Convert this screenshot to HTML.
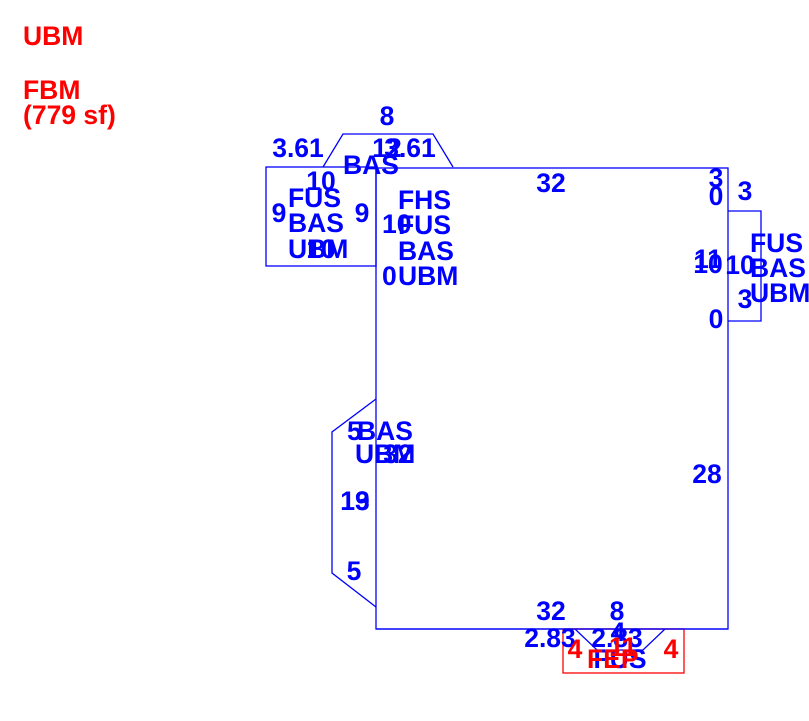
<!DOCTYPE html>
<html><head><meta charset="utf-8"><style>
html,body{margin:0;padding:0;background:#fff;}
svg{display:block;}
text{font-family:"Liberation Sans",Arial,sans-serif;font-weight:bold;font-size:26.5px;}
.b{fill:#0000ff;}
.r{fill:#ff0000;}
.m{text-anchor:middle;}
</style></head><body>
<svg width="809" height="721" viewBox="0 0 809 721" xmlns="http://www.w3.org/2000/svg">
<g fill="none" stroke="#0000ff" stroke-width="1.3">
<rect x="376" y="168" width="352" height="461"/>
<rect x="266" y="167" width="110" height="99"/>
<polyline points="323,167 343,134 433,134 453,167"/>
<polyline points="728,211 761,211 761,321 728,321"/>
<polyline points="376,399 332,432 332,573 376,607"/>
<polyline points="575,629 597,650 643,650 665,629"/>
</g>
<rect x="563" y="629" width="121" height="44" fill="none" stroke="#ff0000" stroke-width="1.3"/>
<line x1="376" y1="629" x2="728" y2="629" stroke="#0000ff" stroke-width="1.3"/>

<text class="r" x="23" y="45">UBM</text>
<text class="r" x="23" y="99">FBM</text>
<text class="r" x="23" y="124">(779 sf)</text>

<text class="b m" x="387" y="125">8</text>
<text class="b m" x="298" y="157">3.61</text>
<text class="b m" x="387" y="157">12</text>
<text class="b m" x="410" y="157">3.61</text>
<text class="b" x="343" y="174">BAS</text>
<text class="b m" x="321" y="190">10</text>
<text class="b" x="288" y="207">FUS</text>
<text class="b m" x="279" y="222">9</text>
<text class="b m" x="362" y="222">9</text>
<text class="b" x="288" y="232">BAS</text>
<text class="b" x="288" y="258">UBM</text>
<text class="b m" x="321" y="258">10</text>

<text class="b" x="398" y="209">FHS</text>
<text class="b" x="382" y="233">10</text>
<text class="b" x="398" y="234">FUS</text>
<text class="b" x="398" y="260">BAS</text>
<text class="b" x="398" y="285">UBM</text>
<text class="b" x="382" y="285">0</text>

<text class="b m" x="551" y="192">32</text>
<text class="b m" x="716" y="187">3</text>
<text class="b m" x="716" y="205">0</text>
<text class="b m" x="745" y="200">3</text>
<text class="b m" x="708" y="268">11</text>
<text class="b m" x="708" y="273">10</text>
<text class="b m" x="740" y="274">10</text>
<text class="b" x="750" y="252">FUS</text>
<text class="b" x="750" y="277">BAS</text>
<text class="b" x="750" y="302">UBM</text>
<text class="b m" x="745" y="308">3</text>
<text class="b m" x="716" y="328">0</text>
<text class="b m" x="707" y="483">28</text>

<text class="b" x="347" y="440">5</text>
<text class="b" x="357" y="440">BAS</text>
<text class="b" x="355" y="463">UBM</text>
<text class="b m" x="398" y="463">32</text>
<text class="b m" x="355" y="510">13</text>
<text class="b m" x="355" y="510">19</text>
<text class="b m" x="354" y="580">5</text>

<text class="b m" x="551" y="620">32</text>
<text class="b m" x="617" y="620">8</text>
<text class="b m" x="618" y="641">4</text>
<text class="b m" x="550" y="647">2.83</text>
<text class="b m" x="617" y="647">2.83</text>
<text class="b m" x="620" y="668">FUS</text>
<text class="r m" x="575" y="658">4</text>
<text class="r m" x="623" y="656">11</text>
<text class="r m" x="671" y="658">4</text>
<text class="r" x="587" y="668">FEP</text>
</svg>
</body></html>
